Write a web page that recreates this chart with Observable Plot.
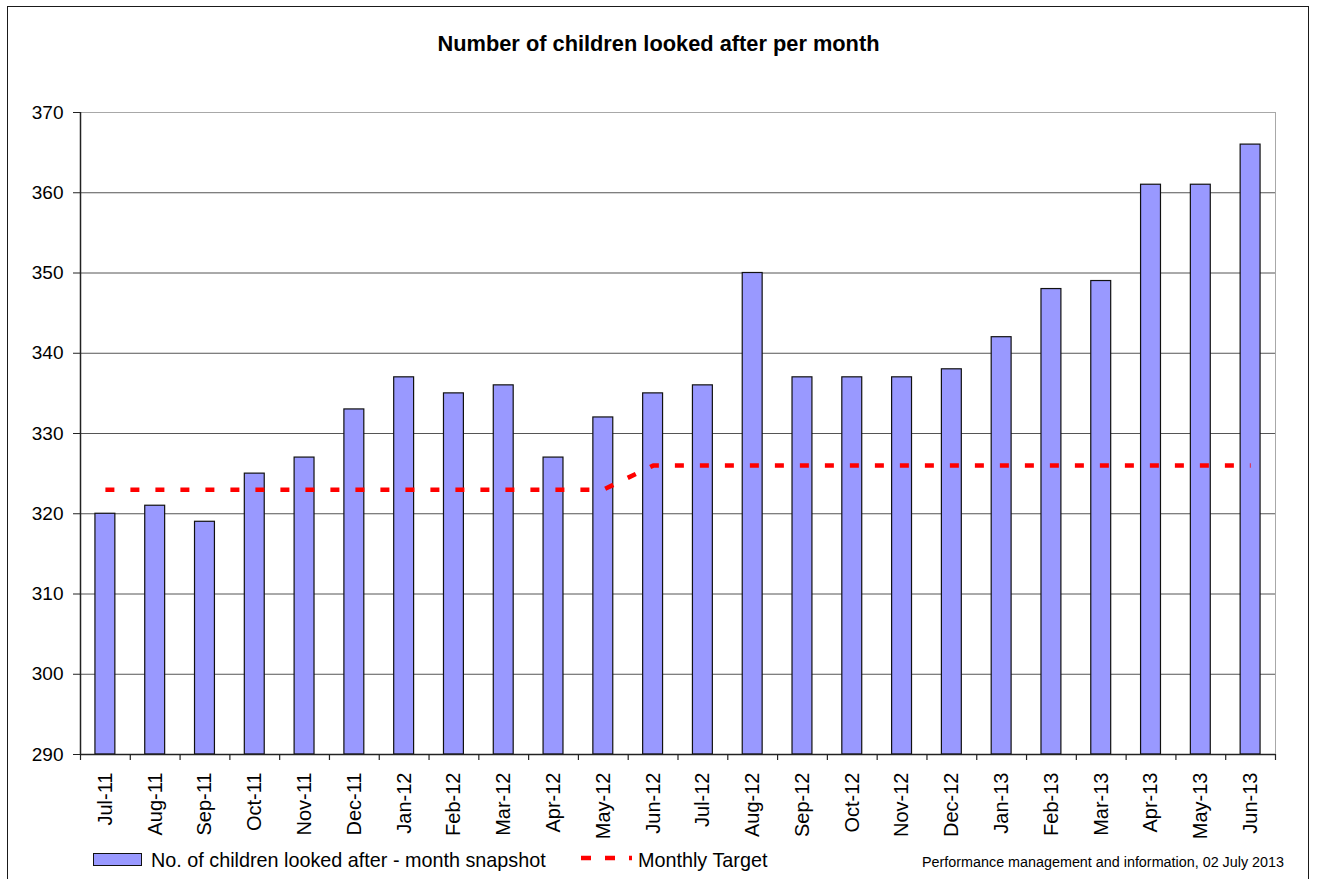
<!DOCTYPE html>
<html>
<head>
<meta charset="utf-8">
<script src="https://cdn.jsdelivr.net/npm/d3@7"></script>
<script src="https://cdn.jsdelivr.net/npm/@observablehq/plot@0.6"></script>
<style>
  html, body { margin: 0; padding: 0; background: #fff; }
  #wrap { position: relative; width: 1317px; height: 879px; overflow: hidden; background: #fff;
          font-family: "Liberation Sans", Arial, sans-serif; color: #000; }
  #frame { position: absolute; left: 7px; top: 6px; width: 1302px; height: 900px; border: 1.5px solid #1a1a1a; box-sizing: border-box; }
  #title { position: absolute; left: 0; top: 32px; width: 1317px; text-align: center; font-weight: bold; font-size: 21.8px; line-height: 24px; }
  #chart { position: absolute; left: 0; top: 0; }
  .leg { position: absolute; font-size: 19.8px; line-height: 22px; white-space: nowrap; }
  #caption { position: absolute; right: 33px; top: 853px; font-size: 14.35px; line-height: 18px; white-space: nowrap; }
</style>
</head>
<body>
<div id="wrap">
  <div id="frame"></div>
  <div id="title">Number of children looked after per month</div>
  <div id="chart"></div>
  <div style="position:absolute;left:93px;top:853px;width:49px;height:13px;background:#9999ff;border:1px solid #111;box-sizing:border-box;"></div>
  <div class="leg" style="left:151px;top:849px;">No. of children looked after - month snapshot</div>
  <svg style="position:absolute;left:578px;top:852px" width="60" height="12"><line x1="3" y1="6" x2="54" y2="6" stroke="#ff0000" stroke-width="4.5" stroke-dasharray="10,14"/></svg>
  <div class="leg" style="left:638px;top:849px;">Monthly Target</div>
  <div id="caption">Performance management and information, 02 July 2013</div>
</div>
<script>
const months = ["Jul-11","Aug-11","Sep-11","Oct-11","Nov-11","Dec-11","Jan-12","Feb-12","Mar-12","Apr-12","May-12","Jun-12",
                "Jul-12","Aug-12","Sep-12","Oct-12","Nov-12","Dec-12","Jan-13","Feb-13","Mar-13","Apr-13","May-13","Jun-13"];
const childrenLookedAfter = [320,321,319,325,327,333,337,335,336,327,332,335,336,350,337,337,337,338,342,348,349,361,361,366];
const monthlyTarget = [323,323,323,323,323,323,323,323,323,323,323,326,326,326,326,326,326,326,326,326,326,326,326,326];
const yTicks = [290,300,310,320,330,340,350,360,370];

const data = months.map((m, i) => ({month: m, count: childrenLookedAfter[i], target: monthlyTarget[i]}));

const W = 1317, H = 835, mL = 80, mR = 42, mT = 112, mB = 81;
const plotW = W - mL - mR, plotH = H - mT - mB;
const step = plotW / months.length;
const base = yTicks[0];

const chart = Plot.plot({
  width: W, height: H,
  marginLeft: mL, marginRight: mR, marginTop: mT, marginBottom: mB,
  style: {fontFamily: "'Liberation Sans', Arial, sans-serif", color: "#000", background: "transparent", overflow: "visible"},
  x: {domain: months, paddingInner: 0.6, paddingOuter: 0.3, round: false, axis: null, label: null},
  y: {domain: [yTicks[0], yTicks[yTicks.length - 1]], axis: null, label: null},
  marks: [
    Plot.frame({stroke: "#a8a8a8", strokeWidth: 1}),
    Plot.gridY({ticks: yTicks.slice(1, -1), stroke: "#555", strokeOpacity: 1, strokeWidth: 1}),
    Plot.barY(data, {x: "month", y1: base, y2: "count", fill: "#9999ff", stroke: "#111", strokeWidth: 1.2}),
    Plot.line(data, {x: "month", y: "target", stroke: "#ff0000", strokeWidth: 4.5, strokeDasharray: "9,16", strokeLinecap: "butt"}),
    Plot.ruleY([base], {stroke: "#222", strokeWidth: 1.5}),
    Plot.ruleX([months[0]], {dx: -step / 2, stroke: "#222", strokeWidth: 1.5}),
    Plot.ruleX(months, {dx: -step / 2, insetTop: plotH, insetBottom: -6, stroke: "#222", strokeWidth: 1.2}),
    Plot.ruleX([months[months.length - 1]], {dx: step / 2, insetTop: plotH, insetBottom: -6, stroke: "#222", strokeWidth: 1.2}),
    Plot.axisY({ticks: yTicks, tickSize: 7, tickPadding: 10, fontSize: 19, stroke: "#222", label: null}),
    Plot.axisX({tickSize: 0, tickRotate: -90, tickPadding: 18, fontSize: 20, label: null})
  ]
});
document.getElementById("chart").appendChild(chart);
</script>
</body>
</html>
